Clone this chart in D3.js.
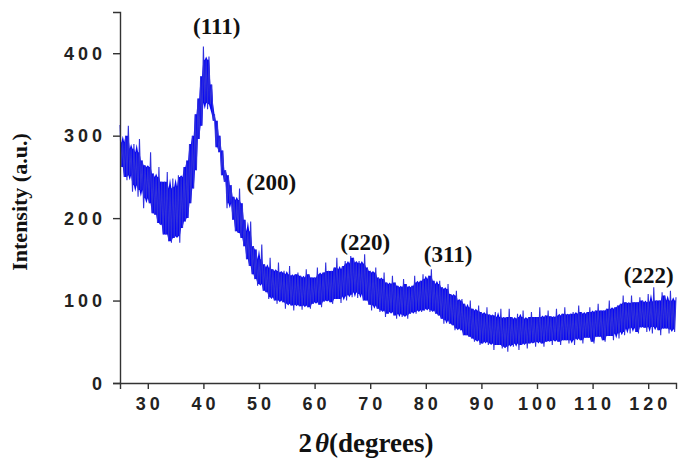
<!DOCTYPE html>
<html>
<head>
<meta charset="utf-8">
<script src="https://cdn.jsdelivr.net/npm/d3@7"></script>
<style>
	body { margin: 0; background: #fff; }
	svg { display: block; }
</style>
</head>
<body>
<div id="container"></div>
<script>
// 2-theta scan: first angle, step, and the intensity (4 per degree)
var angleStart = 25;
var angleStep = 0.25;
var intensity = [
	313, 262, 292, 250,  300, 246, 312, 252,  284, 232, 290, 240,  280, 226, 296, 234,
	270, 212, 264, 224,  262, 218, 280, 206,  254, 204, 250, 194,  262, 192, 244, 180,
	244, 180, 256, 172,  236, 170, 248, 176,  238, 178, 252, 170,  250, 188, 262, 196,
	270, 200, 290, 218,  300, 236, 326, 258,  345, 296, 372, 312,  408, 340, 392, 332,
	396, 338, 362, 318,  326, 286, 318, 280,  300, 252, 282, 244,  258, 212, 252, 218,
	240, 198, 226, 184,  222, 182, 236, 176,  218, 166, 198, 150,  184, 142, 196, 132,
	166, 126, 162, 118,  150, 120, 168, 112,  144, 110, 140, 102,  152, 104, 138, 100,
	136,  96, 146, 100,  134,  98, 136,  90,  132,  96, 142,  94,  130,  88, 132,  95,
	134,  93, 130,  89,  128,  94, 138,  92,  132,  90, 128,  96,  128,  98, 140,  95,
	132,  92, 134,  99,  146, 100, 136,  98,  136,  96, 140, 102,  152, 102, 138,  97,
	142, 105, 148, 100,  145, 107, 154, 104,  152, 110, 146, 103,  148, 108, 145, 100,
	156, 100, 140,  95,  136,  88, 134,  94,  140,  90, 128,  86,  126,  88, 134,  80,
	122,  84, 120,  86,  130,  82, 122,  78,  118,  84, 116,  80,  126,  82, 120,  78,
	116,  84, 118,  86,  130,  84, 122,  88,  124,  86, 132,  88,  126,  90, 130,  86,
	138,  88, 124,  84,  120,  82, 124,  78,  116,  72, 114,  76,  120,  72, 108,  70,
	106,  64, 112,  66,  100,  64, 102,  58,   96,  58,  92,  56,  100,  54,  90,  50,
	 88,  52,  94,  46,   86,  48,  84,  50,   92,  46,  83,  48,   82,  40,  86,  46,
	 80,  46,  90,  42,   79,  44,  80,  38,   90,  46,  80,  44,   78,  48,  84,  40,
	 80,  46,  88,  48,   78,  42,  80,  48,   86,  49,  80,  44,   80,  50,  92,  48,
	 80,  44,  82,  50,   88,  51,  81,  46,   80,  52,  90,  50,   82,  46,  84,  52,
	 92,  52,  83,  48,   84,  52,  86,  46,   84,  54,  94,  52,   86,  48,  84,  55,
	 86,  55,  92,  50,   86,  48,  88,  56,   96,  56,  88,  52,   88,  50,  90,  57,
	100,  57,  90,  52,   92,  60,  94,  54,   96,  62, 106,  58,   98,  66,  97,  60,
	106,  67,  98,  62,   98,  60, 104,  68,  100,  67,  98,  62,  108,  68,  99,  60,
	116,  68, 100,  64,  100,  58, 110,  66,  106,  66, 100,  60,  112,  65, 100,  62,
	104
];

var xTicks = [30, 40, 50, 60, 70, 80, 90, 100, 110, 120];
var yTicks = [0, 100, 200, 300, 400];

// reflection labels and where they sit, in data units (angle, intensity)
var peakLabels = ["(111)", "(200)", "(220)", "(311)", "(222)"];
var peakLabelAngle = [42.4, 52.2, 69.1, 84.0, 120.1];
var peakLabelLevel = [423, 234, 161, 147, 121];

function draw()
{
	var width = 686, height = 465;

	var svg = d3.select("#container").append("svg")
		.attr("width", width)
		.attr("height", height);

	var x = d3.scaleLinear().domain([25, 125]).range([120, 676]);
	var y = d3.scaleLinear().domain([0, 450]).range([383, 12]);

	var points = intensity.map((v, i) => {
		// the dense core of the noise band: 2nd highest / 2nd lowest of the neighbours
		var win = intensity.slice(Math.max(0, i - 2), i + 3).slice().sort(d3.ascending);
		return {a: angleStart + i * angleStep, v: v, lo: win[1], hi: win[win.length - 2]};
	});

	svg.append("path")
		.datum(points)
		.attr("fill", "#0808f4")
		.attr("d", d3.area().x((d) => x(d.a)).y0((d) => y(d.lo)).y1((d) => y(d.hi)));

	svg.append("path")
		.datum(points)
		.attr("fill", "none")
		.attr("stroke", "#3030dc")
		.attr("stroke-width", 1.1)
		.attr("d", d3.line().x((d) => x(d.a)).y((d) => y(d.v)));

	// x axis, major + minor ticks
	var xAxis = svg.append("g").attr("transform", "translate(0,383)");
	xAxis.call(d3.axisBottom(x).tickValues(d3.range(25, 126, 5)).tickSize(3).tickFormat(""));
	xAxis.call(d3.axisBottom(x).tickValues(xTicks).tickSize(6).tickFormat(""));
	xAxis.selectAll("path, line").attr("stroke", "#333").attr("stroke-width", 1.4);

	svg.append("g").selectAll("text")
		.data(xTicks)
		.enter()
		.append("text")
			.attr("x", (d) => x(d) + 2)
			.attr("y", 410)
			.attr("text-anchor", "middle")
			.attr("font-family", "Liberation Sans, Arial, sans-serif")
			.attr("font-weight", "bold")
			.attr("font-size", 18)
			.attr("letter-spacing", 4)
			.attr("fill", "#222")
			.text((d) => d);

	// y axis
	var yAxis = svg.append("g").attr("transform", "translate(120,0)");
	yAxis.call(d3.axisLeft(y).tickValues(d3.range(0, 451, 50)).tickSize(4).tickFormat(""));
	yAxis.call(d3.axisLeft(y).tickValues(yTicks).tickSize(7).tickFormat(""));
	yAxis.selectAll("path, line").attr("stroke", "#333").attr("stroke-width", 1.4);

	svg.append("g").selectAll("text")
		.data(yTicks)
		.enter()
		.append("text")
			.attr("x", 106)
			.attr("y", (d) => y(d) + 6.5)
			.attr("text-anchor", "end")
			.attr("font-family", "Liberation Sans, Arial, sans-serif")
			.attr("font-weight", "bold")
			.attr("font-size", 18)
			.attr("letter-spacing", 4)
			.attr("fill", "#222")
			.text((d) => d);

	// axis titles
	var xt = svg.append("text")
		.attr("x", 366)
		.attr("y", 452)
		.attr("text-anchor", "middle")
		.attr("font-family", "Liberation Serif, Times New Roman, serif")
		.attr("font-weight", "bold")
		.attr("font-size", 27)
		.attr("fill", "#111");
	xt.append("tspan").text("2");
	xt.append("tspan").attr("font-style", "italic").attr("dx", 3).text("θ");
	xt.append("tspan").text("(degrees)");

	svg.append("text")
		.attr("transform", "translate(27,202) rotate(-90)")
		.attr("text-anchor", "middle")
		.attr("font-family", "Liberation Serif, Times New Roman, serif")
		.attr("font-weight", "bold")
		.attr("font-size", 22)
		.attr("fill", "#111")
		.text("Intensity (a.u.)");

	// reflection labels
	svg.append("g").selectAll("text")
		.data(peakLabels)
		.enter()
		.append("text")
			.attr("x", (d, i) => x(peakLabelAngle[i]))
			.attr("y", (d, i) => y(peakLabelLevel[i]))
			.attr("text-anchor", "middle")
			.attr("font-family", "Liberation Serif, Times New Roman, serif")
			.attr("font-weight", "bold")
			.attr("font-size", 23)
			.attr("fill", "#111")
			.text((d) => d);
}

draw();
</script>
</body>
</html>
